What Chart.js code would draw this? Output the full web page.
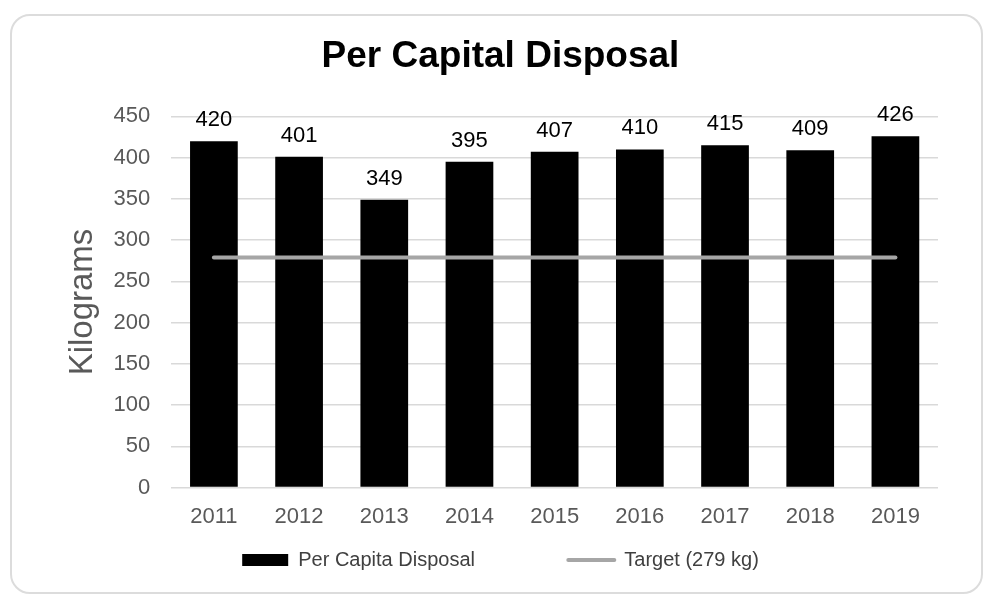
<!DOCTYPE html>
<html>
<head>
<meta charset="utf-8">
<script src="https://cdn.jsdelivr.net/npm/chart.js@4"></script>
<style>
  html,body{margin:0;padding:0;background:#fff;}
  body{width:984px;height:597px;position:relative;overflow:hidden;}
  .card{position:absolute;left:10px;top:14px;width:973px;height:580px;
        border:2px solid #dcdcdc;border-radius:20px;box-sizing:border-box;}
  .wrap{position:absolute;left:0;top:0;width:984px;height:597px;}
</style>
</head>
<body>
<div class="card"></div>
<div class="wrap"><canvas id="chart"></canvas></div>
<script>
/* ---------- data ---------- */
const years = ['2011','2012','2013','2014','2015','2016','2017','2018','2019'];
const disposal = [420, 401, 349, 395, 407, 410, 415, 409, 426];
const target = [279, 279, 279, 279, 279, 279, 279, 279, 279];
const yTicks = [0, 50, 100, 150, 200, 250, 300, 350, 400, 450];

const FONT = "'Liberation Sans', Arial, sans-serif";

/* value labels above the bars */
const barValues = {
  id:'barValues',
  afterDatasetsDraw(chart){
    const meta = chart.getDatasetMeta(0);
    const ctx = chart.ctx;
    ctx.save();
    ctx.font = '22px ' + FONT;
    ctx.fillStyle = '#000';
    ctx.textAlign = 'center';
    ctx.textBaseline = 'alphabetic';
    meta.data.forEach((bar, i)=>{
      ctx.fillText(String(disposal[i]), bar.x, bar.y - 15);
    });
    ctx.restore();
  }
};

new Chart(document.getElementById('chart'), {
  data:{
    labels: years,
    datasets:[
      {type:'bar', label:'Per Capita Disposal', data:disposal,
       backgroundColor:'#000', categoryPercentage:1, barPercentage:0.56, order:1},
      {type:'line', label:'Target (279 kg)', data:target,
       borderColor:'#a6a6a6', backgroundColor:'#a6a6a6', borderWidth:4,
       borderCapStyle:'round', pointRadius:0, order:0}
    ]
  },
  options:{
    responsive:true, maintainAspectRatio:false, animation:false,
    layout:{padding:{left:63, right:46, top:0, bottom:17}},
    plugins:{
      title:{display:true, text:'Per Capital Disposal', color:'#000',
             font:{family:FONT, size:37, weight:'bold'}, padding:{top:35, bottom:37}},
      legend:{position:'bottom',
        labels:{
          usePointStyle:true, pointStyleWidth:46, boxHeight:12, padding:10,
          color:'#404040', font:{family:FONT, size:20},
          generateLabels(chart){
            return chart.data.datasets.map((ds, i)=>({
              text: i===0 ? ds.label + '               ' : ds.label,
              fillStyle: ds.type==='bar' ? '#000' : '#a6a6a6',
              strokeStyle: ds.type==='bar' ? '#000' : '#a6a6a6',
              lineWidth: ds.type==='bar' ? 0 : 4,
              lineCap:'round',
              pointStyle: ds.type==='bar' ? 'rect' : 'line',
              fontColor:'#404040',
              hidden:false, datasetIndex:i
            }));
          }
        }},
      tooltip:{enabled:false}
    },
    scales:{
      x:{
        grid:{display:false, drawTicks:false},
        border:{display:false},
        ticks:{color:'#595959', font:{family:FONT, size:22}, padding:16},
        afterFit(s){ s.height -= 6; }
      },
      y:{
        min:0, max:450,
        afterBuildTicks(s){ s.ticks = yTicks.map(v=>({value:v})); },
        grid:{color:'#d9d9d9', lineWidth:1.5, drawTicks:false},
        border:{display:false},
        ticks:{color:'#595959', font:{family:FONT, size:22}, padding:21},
        title:{display:true, text:'Kilograms', color:'#595959',
               font:{family:FONT, size:33}, padding:{top:0, bottom:8}},
        afterFit(s){ s.width -= 18; }
      }
    }
  },
  plugins:[barValues]
});
</script>
</body>
</html>
